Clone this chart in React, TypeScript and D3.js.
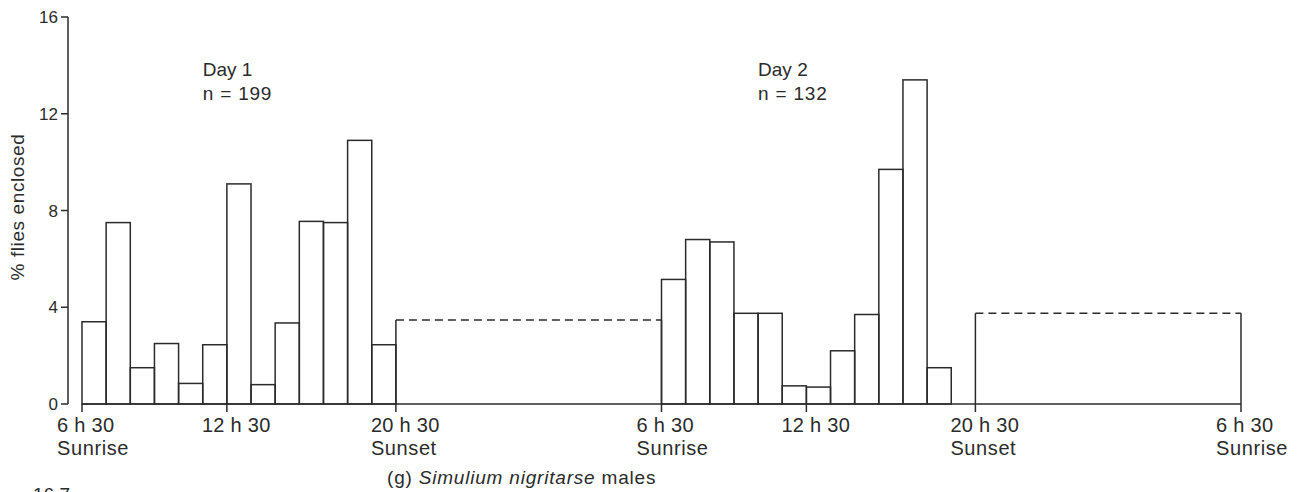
import React from "react";
import * as d3 from "d3";

// ---- data ----
const day1Values = [3.4, 7.5, 1.5, 2.5, 0.85, 2.45, 9.1, 0.8, 3.35, 7.55, 7.5, 10.9, 2.45];
const night1Value = 3.47;
const day2Values = [5.15, 6.8, 6.7, 3.75, 3.75, 0.75, 0.7, 2.2, 3.7, 9.7, 13.4, 1.5];
const night2Value = 3.75;

// x positions are in hourly "slot" units from the first sunrise
const day1Start = 0;
const night1Span = [13, 24];
const day2Start = 24;
const night2Span = [37, 48];

const xTickUnits = [0, 6, 13, 24, 30, 37, 48];
const xTickTimes = ["6 h 30", "12 h 30", "20 h 30", "6 h 30", "12 h 30", "20 h 30", "6 h 30"];
const xTickNotes = ["Sunrise", "", "Sunset", "Sunrise", "", "Sunset", "Sunrise"];
const yTicks = [0, 4, 8, 12, 16];

const dayLabels = ["Day 1", "Day 2"];
const nLabels = ["n = 199", "n = 132"];
const dayLabelUnits = [5, 28];

const W = 1302;
const H = 492;
const INK = "#2b2b2b";
const FONT = "'Liberation Sans', Arial, Helvetica, sans-serif";

export default function App() {
  const x = d3.scaleLinear().domain([0, 48]).range([82, 1241]);
  const y = d3.scaleLinear().domain([0, 16]).range([404, 17]);

  const bars = [
    ...day1Values.map((v, i) => ({ x0: day1Start + i, x1: day1Start + i + 1, v })),
    ...day2Values.map((v, i) => ({ x0: day2Start + i, x1: day2Start + i + 1, v })),
  ];
  const nights = [
    { span: night1Span, v: night1Value },
    { span: night2Span, v: night2Value },
  ];

  return (
    <svg
      width={W}
      height={H}
      style={{ position: "absolute", left: 0, top: 0, background: "#fff" }}
      fontFamily={FONT}
    >
      <rect x={0} y={0} width={W} height={H} fill="#fff" />

      {/* y axis */}
      <line x1={68} x2={68} y1={y(16)} y2={y(0)} stroke={INK} strokeWidth={1.5} />
      {yTicks.map((t) => (
        <g key={t}>
          <line x1={61} x2={68} y1={y(t)} y2={y(t)} stroke={INK} strokeWidth={1.5} />
          <text x={58} y={y(t) + 6} textAnchor="end" fontSize={17} fill={INK}>
            {t}
          </text>
        </g>
      ))}
      <text
        transform={`translate(24,207) rotate(-90)`}
        textAnchor="middle"
        fontSize={19}
        letterSpacing={0.6}
        fill={INK}
      >
        % flies enclosed
      </text>

      {/* bars */}
      {bars.map((b, i) => (
        <rect
          key={i}
          x={x(b.x0)}
          y={y(b.v)}
          width={x(b.x1) - x(b.x0)}
          height={y(0) - y(b.v)}
          fill="none"
          stroke={INK}
          strokeWidth={1.5}
        />
      ))}

      {/* night periods: solid sides, dashed top */}
      {nights.map((n, i) => (
        <g key={i}>
          <line x1={x(n.span[0])} x2={x(n.span[0])} y1={y(0)} y2={y(n.v)} stroke={INK} strokeWidth={1.5} />
          <line x1={x(n.span[1])} x2={x(n.span[1])} y1={y(0)} y2={y(n.v)} stroke={INK} strokeWidth={1.5} />
          <line
            x1={x(n.span[0])}
            x2={x(n.span[1])}
            y1={y(n.v)}
            y2={y(n.v)}
            stroke={INK}
            strokeWidth={1.5}
            strokeDasharray="8,5"
          />
        </g>
      ))}

      {/* x baseline and ticks */}
      <line x1={x(0)} x2={x(48)} y1={y(0)} y2={y(0)} stroke={INK} strokeWidth={1.5} />
      {xTickUnits.map((u, i) => (
        <g key={i}>
          <line x1={x(u)} x2={x(u)} y1={y(0)} y2={y(0) + 8} stroke={INK} strokeWidth={1.5} />
          <text x={x(u) - 25} y={432} fontSize={20} letterSpacing={0.3} fill={INK}>
            {xTickTimes[i]}
          </text>
          {xTickNotes[i] && (
            <text x={x(u) - 25} y={455} fontSize={20} letterSpacing={0.6} fill={INK}>
              {xTickNotes[i]}
            </text>
          )}
        </g>
      ))}

      {/* day annotations */}
      {dayLabels.map((d, i) => (
        <g key={d}>
          <text x={x(dayLabelUnits[i])} y={76} fontSize={19} fill={INK}>
            {d}
          </text>
          <text x={x(dayLabelUnits[i])} y={100} fontSize={19} letterSpacing={0.8} fill={INK}>
            {nLabels[i]}
          </text>
        </g>
      ))}

      {/* caption */}
      <text x={387} y={484} fontSize={19} letterSpacing={0.8} fill={INK}>
        (g) <tspan fontStyle="italic">Simulium nigritarse</tspan> males
      </text>

      {/* cut-off tick label of the next panel */}
      <text x={70} y={501} textAnchor="end" fontSize={19} fill={INK}>
        16.7
      </text>
    </svg>
  );
}
